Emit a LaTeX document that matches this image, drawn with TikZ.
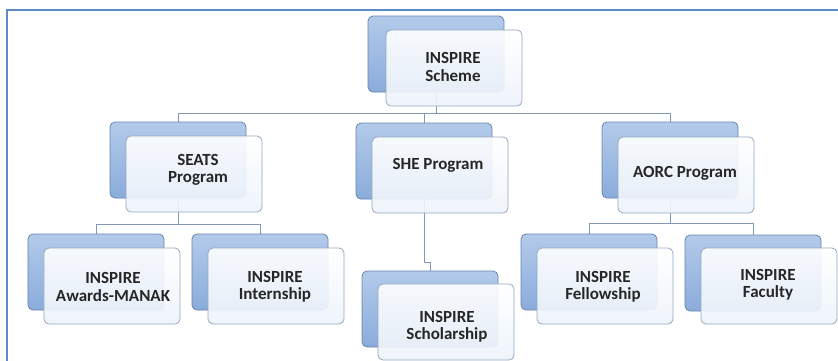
\documentclass[tikz,border=0pt]{standalone}
\usepackage{fontspec}
\setmainfont{Carlito}
\usetikzlibrary{positioning}
\definecolor{frameblue}{HTML}{5B8AC6}
\definecolor{backtop}{HTML}{B3CAEA}
\definecolor{backbot}{HTML}{8AACDB}
\definecolor{backedge}{HTML}{6A84AC}
\definecolor{frontedge}{HTML}{97A8C0}
\definecolor{fronttint}{HTML}{EEF4FB}
\definecolor{linkcol}{HTML}{8197B6}
\definecolor{txt}{HTML}{262626}
\tikzset{
  backbox/.style={draw=backedge, line width=0.8bp, rounded corners=5bp,
    top color=backtop, bottom color=backbot, minimum width=136bp, minimum height=76bp,
    inner sep=0pt},
  frontbox/.style={draw=frontedge, line width=0.8bp, rounded corners=5bp,
    top color=white, bottom color=fronttint, fill opacity=0.9, draw opacity=1,
    minimum width=136bp, minimum height=76bp, inner sep=0pt},
  label/.style={font=\bfseries\fontsize{17bp}{17.5bp}\selectfont, text=txt, align=center},
  link/.style={draw=linkcol, line width=0.9bp},
}
\begin{document}
\begin{tikzpicture}[x=1bp,y=-1bp]
\useasboundingbox (0,0) rectangle (838,360);
\fill[white] (0,0) rectangle (838,360);
% frame
\draw[frameblue, line width=2.2bp] (7,362) -- (7,10) -- (840,10);

% back boxes (centres)
\node[backbox] (b0) at (436,54) {};
\node[backbox] (b1) at (178,160) {};
\node[backbox] (b2) at (424,161) {};
\node[backbox] (b3) at (670,160) {};
\node[backbox] (b4) at (96,272) {};
\node[backbox] (b5) at (260,272) {};
\node[backbox] (b6) at (430,309) {};
\node[backbox] (b7) at (589,272) {};
\node[backbox] (b8) at (753,273) {};

% connectors
\coordinate (bar0) at (0,113);
\coordinate (bar1) at (0,224);
\coordinate (bar2) at (0,262);
\coordinate (bar3) at (0,223);
\draw[link] (b0.south) -- (b0.south |- bar0) -| (b1.north);
\draw[link] (b0.south |- bar0) -| (b2.north);
\draw[link] (b0.south |- bar0) -| (b3.north);
\draw[link] (b1.south) -- (b1.south |- bar1) -| (b4.north);
\draw[link] (b1.south |- bar1) -| (b5.north);
\draw[link] (b2.south) -- (b2.south |- bar2) -| (b6.north);
\draw[link] (b3.south) -- (b3.south |- bar3) -| (b7.north);
\draw[link] (b3.south |- bar3) -| (b8.north);

% front boxes
\node[frontbox] (f0) at (454,68) {};
\node[frontbox] (f1) at (194,174) {};
\node[frontbox] (f2) at (440,175) {};
\node[frontbox] (f3) at (686,175) {};
\node[frontbox] (f4) at (112,286) {};
\node[frontbox] (f5) at (276,286) {};
\node[frontbox] (f6) at (446,322) {};
\node[frontbox] (f7) at (605,286) {};
\node[frontbox] (f8) at (769,286) {};

% texts
\node[label] (t0) at (453,67) {INSPIRE\\Scheme};
\node[label] (t1) at (198,170) {SEATS\\Program};
\node[label] (t2) at (438,165) {SHE Program};
\node[label] (t3) at (685,173) {AORC Program};
\node[label] (t4) at (113,287) {INSPIRE\\Awards-MANAK};
\node[label] (t5) at (275,287) {INSPIRE\\Internship};
\node[label] (t6) at (447,327) {INSPIRE\\Scholarship};
\node[label] (t7) at (603,287) {INSPIRE\\Fellowship};
\node[label] (t8) at (768,285) {INSPIRE\\Faculty};
\end{tikzpicture}
\end{document}
